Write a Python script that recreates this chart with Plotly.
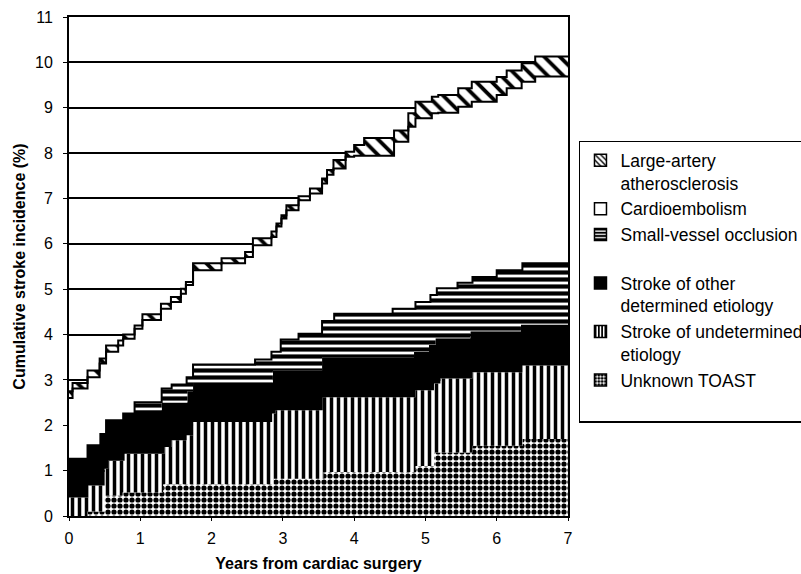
import plotly.graph_objects as go

# Cumulative stroke incidence (%) – top boundary of each stacked layer (step functions)
categories = [
    "Unknown TOAST<br> ",
    "Stroke of undetermined<br>etiology",
    "Stroke of other<br>determined etiology",
    "Small-vessel occlusion<br> ",
    "Cardioembolism",
    "Large-artery<br>atherosclerosis",
]

x_unknown = [0, 0.26, 0.5, 0.75, 1.32, 2.87, 3.57, 4.86, 5.12, 5.66, 6.36, 7]
y_unknown = [0, 0.1, 0.45, 0.52, 0.7, 0.82, 0.97, 1.1, 1.4, 1.55, 1.7, 1.7]

x_undet = [0, 0.27, 0.5, 0.55, 0.78, 1.34, 1.44, 1.65, 1.74, 2.85, 2.9, 3.56, 4.86, 5.12, 5.21, 5.66, 6.36, 7]
y_undet = [0.41, 0.67, 1.04, 1.22, 1.37, 1.52, 1.67, 1.78, 2.07, 2.26, 2.33, 2.62, 2.77, 2.92, 3.03, 3.17, 3.32, 3.32]

x_other = [0, 0.26, 0.44, 0.52, 0.76, 0.92, 1.3, 1.66, 1.74, 2.86, 3.55, 4.84, 5.05, 5.14, 5.63, 6.34, 7]
y_other = [1.26, 1.56, 1.81, 2.11, 2.26, 2.33, 2.5, 2.75, 2.93, 3.2, 3.5, 3.62, 3.77, 3.92, 4.07, 4.22, 4.22]

x_small = [0, 0.26, 0.44, 0.52, 0.76, 0.92, 1.3, 1.44, 1.65, 1.74, 2.61, 2.84, 2.97, 3.22, 3.55, 3.72,
           4.54, 4.86, 5.07, 5.16, 5.45, 5.66, 6.0, 6.36, 7]
y_small = [1.26, 1.56, 1.81, 2.11, 2.26, 2.51, 2.81, 2.9, 3.06, 3.34, 3.45, 3.62, 3.89, 4.02, 4.3, 4.46,
           4.57, 4.72, 4.87, 5.02, 5.14, 5.27, 5.42, 5.57, 5.57]

x_top = [0, 0.05, 0.26, 0.43, 0.52, 0.69, 0.76, 0.92, 1.03, 1.29, 1.43, 1.57, 1.64, 1.74, 2.14, 2.47,
         2.58, 2.84, 2.91, 2.98, 3.05, 3.22, 3.38, 3.55, 3.62, 3.71, 3.88, 4.0, 4.14, 4.56, 4.76, 4.86,
         5.09, 5.18, 5.46, 5.65, 6.0, 6.14, 6.35, 6.54, 7]
y_cardio = [2.6, 2.81, 3.06, 3.36, 3.62, 3.76, 3.91, 4.13, 4.32, 4.57, 4.72, 4.9, 5.09, 5.42, 5.57, 5.71,
            5.97, 6.15, 6.38, 6.56, 6.74, 6.96, 7.11, 7.33, 7.52, 7.66, 7.92, 7.94, 7.94, 8.25, 8.58, 8.77,
            8.88, 8.89, 9.02, 9.13, 9.28, 9.43, 9.57, 9.69, 9.69]
y_large = [2.75, 2.93, 3.21, 3.47, 3.76, 3.87, 4.0, 4.2, 4.45, 4.68, 4.83, 5.01, 5.16, 5.57, 5.68, 5.82,
           6.12, 6.27, 6.45, 6.63, 6.85, 7.05, 7.22, 7.44, 7.63, 7.85, 8.03, 8.18, 8.33, 8.5, 8.88, 9.13,
           9.24, 9.28, 9.43, 9.57, 9.68, 9.82, 9.98, 10.13, 10.13]

x_ticks = [0, 1, 2, 3, 4, 5, 6, 7]
y_ticks = [0, 1, 2, 3, 4, 5, 6, 7, 8, 9, 10, 11]

FONT = "Liberation Sans, Arial, Helvetica, sans-serif"

layers = [
    (x_unknown, y_unknown, dict(shape=".", size=6, solidity=0.6), 0),
    (x_undet, y_undet, dict(shape="|", size=7, solidity=0.5), 0),
    (x_other, y_other, None, 0),
    (x_small, y_small, dict(shape="-", size=7, solidity=0.6), 2),
    (x_top, y_cardio, None, 2),
    (x_top, y_large, dict(shape="\\", size=11, solidity=0.35), 2),
]
fills = ["white", "white", "black", "white", "white", "white"]

fig = go.Figure()
for i, (xs, ys, pat, lw) in enumerate(layers):
    kw = {}
    if pat is not None:
        kw["fillpattern"] = dict(fgcolor="black", bgcolor="white", fillmode="replace", **pat)
    fig.add_trace(go.Scatter(
        x=xs, y=ys, name=categories[i], mode="lines",
        line=dict(shape="hv", color="black", width=lw),
        fill="tozeroy" if i == 0 else "tonexty",
        fillcolor=fills[i], showlegend=False,
        **kw,
    ))

# legend-only entries with square patterned swatches (top layer first)
for i in reversed(range(len(layers))):
    pat = layers[i][2]
    marker = dict(color=fills[i], line=dict(color="black", width=1.5))
    if pat is not None:
        marker["pattern"] = dict(fgcolor="black", bgcolor="white", fillmode="replace",
                                 shape=pat["shape"], size=4 if pat["shape"] != "\\" else 5,
                                 solidity=pat["solidity"])
    fig.add_trace(go.Bar(x=[None], y=[None], name=categories[i], marker=marker, showlegend=True))

fig.update_layout(
    width=801, height=574,
    margin=dict(l=69, r=233, t=17, b=58, autoexpand=False),
    paper_bgcolor="white", plot_bgcolor="white",
    font=dict(family=FONT, size=16, color="black"),
    showlegend=True,
    legend=dict(
        traceorder="normal", valign="top",
        x=1.022, xanchor="left", y=0.752, yanchor="top",
        bordercolor="black", borderwidth=1.5, bgcolor="white",
        font=dict(family=FONT, size=17.5, color="black"),
        itemwidth=30,
    ),
)
fig.update_xaxes(
    type="linear", range=[0, 7], tickvals=x_ticks, ticktext=[str(v) for v in x_ticks],
    showline=True, linecolor="black", linewidth=2, mirror=True, automargin=False,
    showgrid=False, zeroline=False, ticks="outside", ticklen=3, tickcolor="black",
    ticklabelstandoff=4,
    title=dict(text="Years from cardiac surgery", font=dict(family=FONT, size=16, weight="bold"), standoff=12),
)
fig.update_yaxes(
    type="linear", range=[0, 11], tickvals=y_ticks, ticktext=[str(v) for v in y_ticks],
    showline=True, linecolor="black", linewidth=2, mirror=True, automargin=False,
    showgrid=True, gridcolor="black", gridwidth=1.5, zeroline=False,
    ticks="outside", ticklen=4, tickcolor="black",
    ticklabelstandoff=7,
    title=dict(text="Cumulative stroke incidence (%)", font=dict(family=FONT, size=16, weight="bold"), standoff=5),
)

fig.write_html("out.html", config={"displayModeBar": False},
               post_script="document.body.style.margin='0px';")
